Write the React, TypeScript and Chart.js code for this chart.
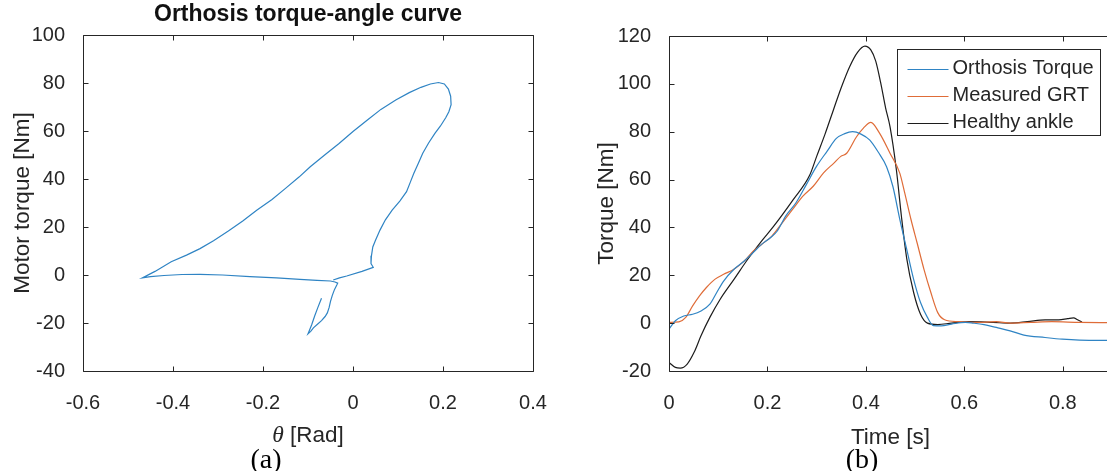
import React, { useEffect, useRef } from "react";
import { Chart, registerables } from "chart.js";

Chart.register(...registerables);

// ---------- Panel (a): torque-angle loop ----------
const loopAngle = [
  -0.07, -0.078, -0.085, -0.092, -0.1, -0.094, -0.088, -0.079, -0.07, -0.062,
  -0.057, -0.053, -0.05, -0.046, -0.041, -0.036, -0.034, -0.04, -0.05, -0.08,
  -0.118, -0.17, -0.229, -0.29, -0.34, -0.38, -0.42, -0.45, -0.468, -0.44,
  -0.404, -0.37, -0.34, -0.31, -0.277, -0.245, -0.214, -0.18, -0.15, -0.12,
  -0.095, -0.063, -0.031, 0.0, 0.032, 0.062, 0.095, 0.125, 0.151, 0.172,
  0.19, 0.203, 0.212, 0.217, 0.218, 0.213, 0.206, 0.194, 0.182, 0.168,
  0.155, 0.145, 0.135, 0.127, 0.119, 0.104, 0.087, 0.072, 0.06, 0.05,
  0.044, 0.041, 0.04, 0.045, 0.02, -0.014, -0.03, -0.044,
];
const loopTorque = [
  -9.7, -13.5, -17.0, -20.8, -24.5, -23.5, -22.0, -20.5, -19.0, -17.3,
  -15.8, -13.5, -11.0, -8.5, -6.0, -4.2, -3.4, -2.9, -2.5, -2.2,
  -1.8, -1.2, -0.7, 0.0, 0.3, 0.2, -0.2, -0.7, -1.2, 1.5,
  5.5, 8.3, 11.0, 14.3, 18.3, 22.5, 27.0, 31.5, 36.1, 40.8,
  45.1, 50.0, 54.8, 59.8, 64.6, 69.0, 72.9, 76.0, 78.2, 79.6,
  80.2, 79.6, 77.5, 74.5, 71.0, 68.0, 65.5, 62.0, 59.0, 55.0,
  50.7, 46.5, 42.3, 38.5, 34.7, 30.8, 27.0, 23.0, 18.7, 14.5,
  11.7, 8.0, 4.8, 3.2, 1.5, -0.4, -1.2, -2.1,
];
const angleTicks = [-0.6, -0.4, -0.2, 0, 0.2, 0.4];
const angleTickLabels = ["-0.6", "-0.4", "-0.2", "0", "0.2", "0.4"];
const motorTicks = [-40, -20, 0, 20, 40, 60, 80, 100];
const motorTickLabels = ["-40", "-20", "0", "20", "40", "60", "80", "100"];

// ---------- Panel (b): torque vs time ----------
const timeOrthosis = [
  0, 0.013, 0.03, 0.048, 0.065, 0.083, 0.097, 0.111, 0.132, 0.153,
  0.171, 0.188, 0.206, 0.22, 0.237, 0.258, 0.279, 0.3, 0.321, 0.34,
  0.357, 0.373, 0.39, 0.408, 0.425, 0.442, 0.455, 0.469, 0.483, 0.497,
  0.511, 0.525, 0.537, 0.553, 0.574, 0.602, 0.618, 0.64, 0.665, 0.693,
  0.721, 0.764, 0.799, 0.834, 0.881, 0.9,
];
const torqueOrthosis = [
  -2.5, 1.0, 3.0, 3.7, 5.1, 7.9, 12.8, 17.6, 22.5, 26.0,
  29.5, 32.9, 35.7, 38.5, 44.7, 50.3, 57.9, 65.6, 71.8, 77.2,
  79.2, 80.0, 79.0, 76.5, 71.5, 65.4, 57.0, 43.3, 30.8, 18.3,
  8.6, 2.4, -1.0, -1.1, -0.4, 0.3, 0.0, -0.6, -1.8, -3.2,
  -5.0, -6.0, -6.7, -7.1, -7.2, -7.2,
];
const timeGRT = [
  0, 0.02, 0.034, 0.048, 0.062, 0.076, 0.093, 0.111, 0.132, 0.153,
  0.171, 0.188, 0.209, 0.23, 0.251, 0.272, 0.293, 0.314, 0.335, 0.349,
  0.361, 0.381, 0.395, 0.41, 0.428, 0.449, 0.469, 0.479, 0.492, 0.504,
  0.518, 0.532, 0.546, 0.56, 0.588, 0.623, 0.665, 0.693, 0.735, 0.778,
  0.834, 0.9,
];
const torqueGRT = [
  0.3, 0.5, 2.4, 7.2, 11.4, 14.9, 18.3, 20.4, 22.5, 26.0,
  30.1, 32.9, 36.4, 41.9, 47.5, 53.1, 57.2, 62.8, 66.9, 69.7,
  71.0, 77.9, 81.5, 83.9, 79.3, 71.0, 62.6, 54.3, 43.0, 33.6,
  22.5, 12.8, 4.4, 1.4, 0.6, 0.3, 0.6, 0.0, 0.3, 0.6,
  0.3, 0.2,
];
const timeHealthy = [
  0, 0.013, 0.023, 0.037, 0.051, 0.065, 0.083, 0.104, 0.132, 0.16,
  0.188, 0.212, 0.252, 0.286, 0.3, 0.317, 0.334, 0.35, 0.367, 0.383,
  0.398, 0.41, 0.42, 0.43, 0.44, 0.449, 0.462, 0.472, 0.483, 0.497,
  0.511, 0.525, 0.546, 0.574, 0.609, 0.658, 0.693, 0.728, 0.764, 0.792,
  0.81, 0.822, 0.83, 0.839,
];
const torqueHealthy = [
  -16.4, -18.5, -18.8, -17.1, -12.2, -5.3, 2.4, 10.0, 18.3, 26.7,
  34.3, 40.3, 51.5, 61.9, 69.7, 79.0, 89.1, 98.5, 107.2, 113.2,
  115.8, 114.2, 109.5, 100.5, 90.0, 82.1, 64.0, 45.0, 27.0, 12.8,
  3.7, 0.0, -0.6, 0.0, 0.6, 0.3, 0.0, 0.6, 1.4, 1.4,
  1.9, 2.2, 1.4, 0.5,
];
const timeTicks = [0, 0.2, 0.4, 0.6, 0.8];
const timeTickLabels = ["0", "0.2", "0.4", "0.6", "0.8"];
const torqueTicks = [-20, 0, 20, 40, 60, 80, 100, 120];
const torqueTickLabels = ["-20", "0", "20", "40", "60", "80", "100", "120"];

const seriesNames = ["Orthosis Torque", "Measured GRT", "Healthy ankle"];
const seriesColors = ["#2f84c4", "#df6c38", "#1c1c1c"];

const titleA = "Orthosis torque-angle curve";
const yLabelA = "Motor torque [Nm]";
const xLabelSymbolA = "\u03b8";
const xLabelRestA = " [Rad]";
const yLabelB = "Torque [Nm]";
const xLabelB = "Time [s]";
const captionA = "(a)";
const captionB = "(b)";

const SANS = "'Liberation Sans', Arial, Helvetica, sans-serif";
const SERIF = "'Liberation Serif', 'Times New Roman', serif";
const AXIS = "#262626";
const LABEL_SIZE = 22.5;
const TICK_SIZE = 20;

const toPoints = (xs: number[], ys: number[]) => xs.map((x, i) => ({ x, y: ys[i] }));

// inward ticks + box, MATLAB style
const boxPlugin = {
  id: "matlabBox",
  afterDraw(chart: any) {
    const { ctx, chartArea: a, scales } = chart;
    const xs = scales.x;
    const ys = scales.y;
    const L = Math.round(a.left) + 0.5;
    const R = Math.round(a.right) + 0.5;
    const T = Math.round(a.top) + 0.5;
    const B = Math.round(a.bottom) + 0.5;
    ctx.save();
    ctx.strokeStyle = AXIS;
    ctx.lineWidth = 1;
    ctx.beginPath();
    ctx.rect(L, T, R - L, B - T);
    const tl = 5;
    xs.ticks.forEach((t: any) => {
      const px = Math.round(xs.getPixelForValue(t.value)) + 0.5;
      ctx.moveTo(px, B);
      ctx.lineTo(px, B - tl);
      ctx.moveTo(px, T);
      ctx.lineTo(px, T + tl);
    });
    ys.ticks.forEach((t: any) => {
      const py = Math.round(ys.getPixelForValue(t.value)) + 0.5;
      ctx.moveTo(L, py);
      ctx.lineTo(L + tl, py);
      ctx.moveTo(R, py);
      ctx.lineTo(R - tl, py);
    });
    ctx.stroke();
    ctx.restore();
  },
};

const thetaLabelPlugin = {
  id: "thetaLabel",
  afterDraw(chart: any) {
    const { ctx, chartArea: a } = chart;
    ctx.save();
    ctx.fillStyle = AXIS;
    ctx.textBaseline = "middle";
    ctx.textAlign = "left";
    const fSym = `italic ${LABEL_SIZE + 1}px ${SERIF}`;
    const fRest = `${LABEL_SIZE}px ${SANS}`;
    ctx.font = fSym;
    const w1 = ctx.measureText(xLabelSymbolA).width;
    ctx.font = fRest;
    const w2 = ctx.measureText(xLabelRestA).width;
    const cx = (a.left + a.right) / 2;
    const y = 436;
    const x = cx - (w1 + w2) / 2;
    ctx.font = fSym;
    ctx.fillText(xLabelSymbolA, x, y);
    ctx.font = fRest;
    ctx.fillText(xLabelRestA, x + w1, y);
    ctx.restore();
  },
};

const legendPlugin = {
  id: "insideLegend",
  afterDraw(chart: any) {
    const { ctx, chartArea: a } = chart;
    ctx.save();
    ctx.font = `${TICK_SIZE}px ${SANS}`;
    const maxW = Math.max(...seriesNames.map((n) => ctx.measureText(n).width));
    const width = 55 + maxW + 7;
    const right = Math.round(a.right) - 12 + 0.5;
    const top = Math.round(a.top) + 13 + 0.5;
    const left = Math.round(right - width) + 0.5;
    const height = 86;
    ctx.fillStyle = "#ffffff";
    ctx.fillRect(left, top, right - left, height);
    ctx.strokeStyle = AXIS;
    ctx.lineWidth = 1;
    ctx.strokeRect(left, top, right - left, height);
    seriesNames.forEach((name, i) => {
      const cy = top + 19 + i * 27;
      ctx.strokeStyle = seriesColors[i];
      ctx.lineWidth = 1.2;
      ctx.beginPath();
      ctx.moveTo(left + 10, Math.round(cy) + 0.5);
      ctx.lineTo(left + 51, Math.round(cy) + 0.5);
      ctx.stroke();
      ctx.fillStyle = AXIS;
      ctx.textBaseline = "middle";
      ctx.textAlign = "left";
      ctx.fillText(name, left + 55, cy);
    });
    ctx.restore();
  },
};

function tickScale(values: number[], labels: string[]) {
  return {
    afterBuildTicks: (s: any) => {
      s.ticks = values.map((v) => ({ value: v }));
    },
    callback: (_v: any, i: number) => labels[i],
  };
}

function PanelA() {
  const ref = useRef<HTMLCanvasElement>(null);
  useEffect(() => {
    const xt = tickScale(angleTicks, angleTickLabels);
    const yt = tickScale(motorTicks, motorTickLabels);
    const chart = new Chart(ref.current as HTMLCanvasElement, {
      type: "line",
      data: {
        datasets: [
          {
            data: toPoints(loopAngle, loopTorque),
            borderColor: seriesColors[0],
            borderWidth: 1.2,
            pointRadius: 0,
            tension: 0,
            fill: false,
          },
        ],
      },
      plugins: [boxPlugin, thetaLabelPlugin],
      options: {
        responsive: false,
        animation: false,
        events: [],
        layout: { padding: { left: 0, right: 27, top: 0, bottom: 20 } },
        plugins: {
          legend: { display: false },
          tooltip: { enabled: false },
          title: {
            display: true,
            text: titleA,
            fullSize: false,
            color: "#111",
            font: { family: SANS, size: 23, weight: "bold", lineHeight: 1.2 },
            padding: { top: 1.2, bottom: 6.2 },
          },
        },
        scales: {
          x: {
            type: "linear",
            min: -0.6,
            max: 0.4,
            afterBuildTicks: xt.afterBuildTicks,
            afterFit: (s: any) => {
              s.height = 80;
            },
            grid: { display: false },
            border: { display: false },
            ticks: {
              callback: xt.callback,
              color: AXIS,
              font: { family: SANS, size: TICK_SIZE },
              padding: 12,
              maxRotation: 0,
              autoSkip: false,
            },
          },
          y: {
            type: "linear",
            min: -40,
            max: 100,
            afterBuildTicks: yt.afterBuildTicks,
            afterFit: (s: any) => {
              s.width = 83;
            },
            grid: { display: false },
            border: { display: false },
            ticks: {
              callback: yt.callback,
              color: AXIS,
              font: { family: SANS, size: TICK_SIZE },
              padding: 10,
              autoSkip: false,
            },
            title: {
              display: true,
              text: yLabelA,
              color: AXIS,
              font: { family: SANS, size: LABEL_SIZE, lineHeight: 1.2 },
              padding: { top: 23 - LABEL_SIZE * 0.6, bottom: 0 },
            },
          },
        },
      } as any,
    });
    return () => chart.destroy();
  }, []);
  return (
    <canvas
      ref={ref}
      width={560}
      height={471}
      style={{ position: "absolute", left: 0, top: 0, width: 560, height: 471, display: "block" }}
    />
  );
}

function PanelB() {
  const ref = useRef<HTMLCanvasElement>(null);
  useEffect(() => {
    const xt = tickScale(timeTicks, timeTickLabels);
    const yt = tickScale(torqueTicks, torqueTickLabels);
    const mk = (xs: number[], ys: number[], i: number) => ({
      label: seriesNames[i],
      data: toPoints(xs, ys),
      borderColor: seriesColors[i],
      borderWidth: 1.2,
      pointRadius: 0,
      cubicInterpolationMode: "monotone",
      fill: false,
    });
    const chart = new Chart(ref.current as HTMLCanvasElement, {
      type: "line",
      data: {
        datasets: [
          mk(timeOrthosis, torqueOrthosis, 0),
          mk(timeGRT, torqueGRT, 1),
          mk(timeHealthy, torqueHealthy, 2),
        ],
      },
      plugins: [boxPlugin, legendPlugin],
      options: {
        responsive: false,
        animation: false,
        events: [],
        layout: { padding: { left: 0, right: 48, top: 36, bottom: 20 } },
        plugins: {
          legend: { display: false },
          tooltip: { enabled: false },
          title: { display: false },
        },
        scales: {
          x: {
            type: "linear",
            min: 0,
            max: 0.9,
            afterBuildTicks: xt.afterBuildTicks,
            afterFit: (s: any) => {
              s.height = 80;
            },
            grid: { display: false },
            border: { display: false },
            ticks: {
              callback: xt.callback,
              color: AXIS,
              font: { family: SANS, size: TICK_SIZE },
              padding: 12,
              maxRotation: 0,
              autoSkip: false,
            },
            title: {
              display: true,
              text: xLabelB,
              color: AXIS,
              font: { family: SANS, size: LABEL_SIZE, lineHeight: 1.2 },
              padding: { top: 0, bottom: 0 },
            },
          },
          y: {
            type: "linear",
            min: -20,
            max: 120,
            afterBuildTicks: yt.afterBuildTicks,
            afterFit: (s: any) => {
              s.width = 109;
            },
            grid: { display: false },
            border: { display: false },
            ticks: {
              callback: yt.callback,
              color: AXIS,
              font: { family: SANS, size: TICK_SIZE },
              padding: 10,
              autoSkip: false,
            },
            title: {
              display: true,
              text: yLabelB,
              color: AXIS,
              font: { family: SANS, size: LABEL_SIZE, lineHeight: 1.2 },
              padding: { top: 47 - LABEL_SIZE * 0.6, bottom: 0 },
            },
          },
        },
      } as any,
    });
    return () => chart.destroy();
  }, []);
  return (
    <canvas
      ref={ref}
      width={600}
      height={471}
      style={{ position: "absolute", left: 560, top: 0, width: 600, height: 471, display: "block" }}
    />
  );
}

const captionStyle = (cx: number): React.CSSProperties => ({
  position: "absolute",
  left: cx - 50,
  width: 100,
  top: 445,
  textAlign: "center",
  fontFamily: SERIF,
  fontSize: 28,
  lineHeight: "28px",
  color: "#000",
});

export default function App() {
  return (
    <div
      style={{
        position: "fixed",
        left: 0,
        top: 0,
        width: 1107,
        height: 471,
        overflow: "hidden",
        background: "#ffffff",
      }}
    >
      <PanelA />
      <PanelB />
      <div style={captionStyle(266)}>{captionA}</div>
      <div style={captionStyle(862)}>{captionB}</div>
    </div>
  );
}
